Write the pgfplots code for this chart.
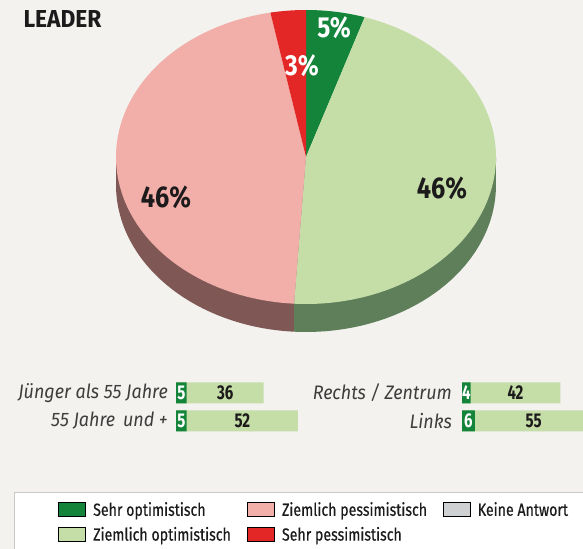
\documentclass[border=0pt]{standalone}
\usepackage{pgfplots}
\pgfplotsset{compat=1.18}
\usepackage{pgfplotstable}
\usepackage{fontspec}
\setmainfont{Fira Sans}[FakeStretch=0.84]
\newfontfamily\titlefont{Fira Sans}[FakeStretch=0.93]
\newfontfamily\catfont{Fira Sans}[FakeStretch=0.92]
\newfontfamily\numfont{Fira Sans}[FakeStretch=0.75]
\newfontfamily\legfont{Fira Sans}[FakeStretch=0.81, FakeBold=0.5]

\definecolor{bgc}{HTML}{F3F2EE}
\definecolor{sehropt}{HTML}{13843A}
\definecolor{ziemopt}{HTML}{C5DEA8}
\definecolor{ziempes}{HTML}{F2AEA9}
\definecolor{sehrpes}{HTML}{E32726}
\definecolor{keine}{HTML}{CFD0D2}
\definecolor{sideopt}{HTML}{5F7F5B}
\definecolor{sidepes}{HTML}{7F5856}
\definecolor{txt}{HTML}{1C1A1B}
\definecolor{legdraw}{HTML}{C8C8C8}

% pie shares (percent): Sehr optimistisch, Ziemlich optimistisch, Ziemlich pessimistisch, Sehr pessimistisch
\def\vSO{5}\def\vZO{46}\def\vZP{46}\def\vSP{3}

% y: row, d: Sehr optimistisch, l: Ziemlich optimistisch
\pgfplotstableread{
y d l
2 5 36
1 5 52
}\agetab
\pgfplotstableread{
y d l
2 4 42
1 6 55
}\poltab

\pgfplotsset{
  barsaxis/.style={
    anchor=south west, x=2.14bp, y=28bp,
    xmin=0, xmax=60, ymin=0.5, ymax=2.5,
    hide x axis, axis y line*=left,
    y axis line style={draw=none}, ytick style={draw=none},
    ytick={1,2},
    yticklabel style={font=\catfont\itshape\fontsize{19.5bp}{20bp}\selectfont, text=txt!85, inner sep=0pt, anchor=east},
    clip=false,
  },
  barplot/.style={xbar, bar width=21bp, bar shift=0pt, draw=none, fill=#1},
  barlabel/.style={only marks, mark=*, mark size=0pt, mark options={draw=none, fill=none},
    nodes near coords, point meta=explicit symbolic,
    every node near coord/.style={anchor=center, inner sep=0pt, text=#1,
      font=\numfont\bfseries\fontsize{20bp}{20bp}\selectfont}},
}

\begin{document}
\begin{tikzpicture}
\useasboundingbox (0,0) rectangle (583bp,549bp);
\fill[bgc] (0,0) rectangle (583bp,549bp);

\pgfmathsetmacro\aA{90}
\pgfmathsetmacro\aB{\aA-3.6*\vSO}
\pgfmathsetmacro\aC{\aB-3.6*\vZO}
\pgfmathsetmacro\aD{\aC-3.6*\vZP}
\pgfmathsetmacro\aE{\aD-3.6*\vSP}
\pgfmathsetmacro\sGa{max(\aC,-180)}
\pgfmathsetmacro\sGb{min(\aB,0)}
\pgfmathsetmacro\sPa{max(\aD,-180)}
\pgfmathsetmacro\sPb{min(\aC,0)}
\def\cx{306}\def\cy{392}\def\rx{190}\def\ry{147}\def\dep{28}

\begin{axis}[
  at={(0,0)}, anchor=south west,
  x=1bp, y=1bp, xmin=0, xmax=583, ymin=0, ymax=549,
  axis lines=none, clip=false,
  legend columns=3,
  legend image code/.code={\fill[#1] (0bp,-7bp) rectangle (27bp,7bp);},
  legend style={at={(axis cs:14,57)}, anchor=north west,
    draw=legdraw, fill=white, line width=0.8bp,
    inner xsep=44bp, inner ysep=10bp,
    column sep=0pt, row sep=10bp,
    cells={anchor=west},
    nodes={inner sep=0pt, text height=12bp, text depth=0bp, text=txt,
      font=\legfont\fontsize{17.5bp}{18bp}\selectfont}},
]
% side of the pie
\addplot[forget plot, fill=sidepes, draw=none, domain=\sPa:\sPb, samples=60]
  ({\cx+\rx*cos(x)},{\cy-\dep+\ry*sin(x)})
  -- ({\cx+\rx*cos(\sPb)},{\cy+\ry*sin(\sPb)}) -- (\cx,\cy)
  -- ({\cx+\rx*cos(\sPa)},{\cy+\ry*sin(\sPa)}) -- cycle;
\addplot[forget plot, fill=sideopt, draw=none, domain=\sGa:\sGb, samples=60]
  ({\cx+\rx*cos(x)},{\cy-\dep+\ry*sin(x)})
  -- ({\cx+\rx*cos(\sGb)},{\cy+\ry*sin(\sGb)}) -- (\cx,\cy)
  -- ({\cx+\rx*cos(\sGa)},{\cy+\ry*sin(\sGa)}) -- cycle;
% top face
\addplot[forget plot, fill=sehropt, draw=none, domain=\aB:\aA, samples=30]
  ({\cx+\rx*cos(x)},{\cy+\ry*sin(x)}) -- (\cx,\cy) -- cycle;
\addplot[forget plot, fill=ziemopt, draw=none, domain=\aC:\aB, samples=120]
  ({\cx+\rx*cos(x)},{\cy+\ry*sin(x)}) -- (\cx,\cy) -- cycle;
\addplot[forget plot, fill=ziempes, draw=none, domain=\aD:\aC, samples=120]
  ({\cx+\rx*cos(x)},{\cy+\ry*sin(x)}) -- (\cx,\cy) -- cycle;
\addplot[forget plot, fill=sehrpes, draw=none, domain=\aE:\aD, samples=20]
  ({\cx+\rx*cos(x)},{\cy+\ry*sin(x)}) -- (\cx,\cy) -- cycle;

\node[text=white, font=\bfseries\fontsize{29bp}{29bp}\selectfont] at (334,521) {\vSO\%};
\node[text=white, font=\bfseries\fontsize{29bp}{29bp}\selectfont] at (302,483) {\vSP\%};
\node[text=txt, font=\bfseries\fontsize{30bp}{30bp}\selectfont] at (442,361) {\vZO\%};
\node[text=txt, font=\bfseries\fontsize{30bp}{30bp}\selectfont] at (166,352) {\vZP\%};

\node[anchor=west, text=txt, font=\titlefont\bfseries\fontsize{24.5bp}{25bp}\selectfont] at (20,529.5) {LEADER};

\addlegendimage{fill=sehropt}
\addlegendentry{\hspace*{7bp}\makebox[154bp][l]{Sehr optimistisch}}
\addlegendimage{fill=ziempes}
\addlegendentry{\hspace*{7bp}\makebox[161bp][l]{Ziemlich pessimistisch}}
\addlegendimage{fill=keine}
\addlegendentry{\hspace*{7bp}\makebox[100bp][l]{Keine Antwort}}
\addlegendimage{fill=ziemopt}
\addlegendentry{\hspace*{7bp}\makebox[154bp][l]{Ziemlich optimistisch}}
\addlegendimage{fill=sehrpes}
\addlegendentry{\hspace*{7bp}\makebox[161bp][l]{Sehr pessimistisch}}
\end{axis}

% age groups
\begin{axis}[barsaxis, at={(176bp,114bp)},
  yticklabels={55 Jahre\, und +, Jünger als 55 Jahre},
  yticklabel style={xshift=-8bp}]
\addplot[barplot=ziemopt] table[x expr=\thisrow{d}+\thisrow{l}, y=y] {\agetab};
\addplot[barplot=sehropt] table[x=d, y=y] {\agetab};
\addplot[barlabel=white] table[x expr=\thisrow{d}/2, y=y, meta=d] {\agetab};
\addplot[barlabel=txt] table[x expr=\thisrow{d}+\thisrow{l}/2, y=y, meta=l] {\agetab};
\end{axis}

% political orientation
\begin{axis}[barsaxis, at={(462bp,114bp)},
  yticklabels={Links, Rechts / Zentrum},
  yticklabel style={xshift=-10bp}]
\addplot[barplot=ziemopt] table[x expr=\thisrow{d}+\thisrow{l}, y=y] {\poltab};
\addplot[barplot=sehropt] table[x=d, y=y] {\poltab};
\addplot[barlabel=white] table[x expr=\thisrow{d}/2, y=y, meta=d] {\poltab};
\addplot[barlabel=txt] table[x expr=\thisrow{d}+\thisrow{l}/2, y=y, meta=l] {\poltab};
\end{axis}
\end{tikzpicture}
\end{document}
